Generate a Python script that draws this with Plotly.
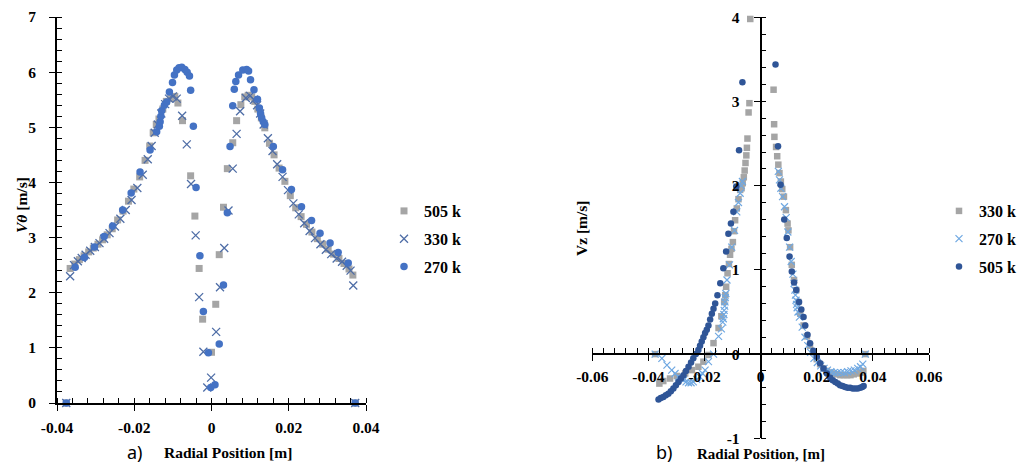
import plotly.graph_objects as go

# ---------------- Panel a) : V_theta ----------------
A_X_505 = [-0.0376, -0.0366, -0.0354, -0.0342, -0.0330, -0.0318, -0.0306, -0.0294, -0.0282, -0.0270,
           -0.0257, -0.0243, -0.0229, -0.0215, -0.0201, -0.0186, -0.0172, -0.0160, -0.0151, -0.0143,
           -0.0136, -0.0126, -0.0117, -0.0106, -0.0095, -0.0087, -0.0075, -0.0054, -0.0043, -0.0032,
           -0.0023, 0.0000, 0.0011, 0.0020, 0.0031, 0.0041, 0.0055, 0.0065, 0.0076, 0.0086,
           0.0095, 0.0104, 0.0112, 0.0120, 0.0129, 0.0138, 0.0150, 0.0162, 0.0175, 0.0190,
           0.0204, 0.0218, 0.0232, 0.0246, 0.0260, 0.0274, 0.0288, 0.0302, 0.0316, 0.0330,
           0.0343, 0.0356, 0.0366, 0.0372]
A_Y_505 = [0.00, 2.44, 2.52, 2.60, 2.67, 2.74, 2.81, 2.88, 2.96, 3.05,
           3.16, 3.32, 3.48, 3.66, 3.88, 4.10, 4.40, 4.66, 4.90, 5.05,
           5.15, 5.33, 5.47, 5.52, 5.56, 5.44, 5.12, 4.12, 3.39, 2.44,
           1.52, 0.92, 1.79, 2.69, 3.55, 4.25, 4.72, 5.12, 5.41, 5.55,
           5.58, 5.55, 5.47, 5.33, 5.17, 4.99, 4.71, 4.50, 4.26, 4.02,
           3.76, 3.54, 3.38, 3.24, 3.10, 2.98, 2.88, 2.79, 2.70, 2.62,
           2.53, 2.43, 2.32, 0.00]

A_X_330 = [-0.0376, -0.0366, -0.0356, -0.0346, -0.0336, -0.0326, -0.0314, -0.0302, -0.0290, -0.0278,
           -0.0264, -0.0250, -0.0236, -0.0222, -0.0207, -0.0192, -0.0178, -0.0165, -0.0155, -0.0147,
           -0.0139, -0.0130, -0.0120, -0.0110, -0.0100, -0.0090, -0.0076, -0.0064, -0.0053, -0.0041,
           -0.0032, -0.0021, -0.0011, -0.0001, 0.0012, 0.0022, 0.0033, 0.0044, 0.0055, 0.0065,
           0.0074, 0.0089, 0.0100, 0.0110, 0.0118, 0.0126, 0.0135, 0.0146, 0.0158, 0.0170,
           0.0184, 0.0198, 0.0212, 0.0226, 0.0240, 0.0254, 0.0268, 0.0282, 0.0296, 0.0310,
           0.0324, 0.0338, 0.0350, 0.0360, 0.0367, 0.0372]
A_Y_330 = [0.00, 2.30, 2.50, 2.57, 2.63, 2.69, 2.76, 2.83, 2.90, 2.98,
           3.08, 3.20, 3.34, 3.50, 3.68, 3.90, 4.14, 4.42, 4.66, 4.90,
           5.05, 5.25, 5.42, 5.52, 5.56, 5.52, 5.21, 4.69, 3.97, 3.04,
           1.92, 0.93, 0.28, 0.46, 1.29, 2.10, 2.81, 3.49, 4.25, 4.88,
           5.29, 5.53, 5.57, 5.50, 5.40, 5.25, 5.05, 4.80, 4.57, 4.33,
           4.10, 3.86, 3.62, 3.42, 3.26, 3.12, 2.99, 2.88, 2.78, 2.70,
           2.62, 2.56, 2.49, 2.40, 2.13, 0.00]

A_X_270 = [-0.0376, -0.0353, -0.0329, -0.0303, -0.0278, -0.0256, -0.0230, -0.0208, -0.0185, -0.0159,
           -0.0142, -0.0135, -0.0133, -0.0131, -0.0129, -0.0122, -0.0116, -0.0109, -0.0101, -0.0096,
           -0.0090, -0.0084, -0.0077, -0.0069, -0.0063, -0.0057, -0.0054, -0.0047, -0.0040, -0.0030,
           -0.0021, -0.0008, -0.0002, 0.0009, 0.0020, 0.0031, 0.0041, 0.0048, 0.0055, 0.0059,
           0.0063, 0.0070, 0.0081, 0.0091, 0.0096, 0.0101, 0.0110, 0.0119, 0.0124, 0.0127,
           0.0130, 0.0134, 0.0138, 0.0160, 0.0184, 0.0207, 0.0233, 0.0259, 0.0281, 0.0307,
           0.0328, 0.0354, 0.0372]
A_Y_270 = [0.00, 2.46, 2.64, 2.83, 3.02, 3.21, 3.50, 3.81, 4.19, 4.59,
           4.92, 5.02, 5.10, 5.20, 5.30, 5.40, 5.46, 5.64, 5.81, 5.95,
           6.04, 6.08, 6.09, 6.05, 6.00, 5.93, 5.67, 5.02, 3.91, 2.67,
           1.66, 0.91, 0.28, 0.33, 1.07, 2.14, 3.45, 4.65, 5.39, 5.69,
           5.83, 5.95, 6.04, 6.05, 6.02, 5.86, 5.68, 5.51, 5.35, 5.25,
           5.17, 5.10, 5.05, 4.65, 4.23, 3.87, 3.56, 3.31, 3.08, 2.90,
           2.73, 2.54, 0.00]

A_XTICKS = [-0.04, -0.02, 0, 0.02, 0.04]
A_XTICKTEXT = ["-0.04", "-0.02", "0", "0.02", "0.04"]
A_YTICKS = [0, 1, 2, 3, 4, 5, 6, 7]

# ---------------- Panel b) : Vz ----------------
B_X_330 = [-0.0376, -0.0361, -0.0347, -0.0323, -0.0299, -0.0269, -0.0245, -0.0222, -0.0204, -0.0186,
           -0.0168, -0.0150, -0.0140, -0.0130, -0.0126, -0.0123, -0.0118, -0.0113, -0.0109, -0.0104,
           -0.0099, -0.0095, -0.0091, -0.0085, -0.0079, -0.0073, -0.0068, -0.0064, -0.0060, -0.0057,
           -0.0054, -0.0051, -0.0049, -0.0047, -0.0043, -0.0040, -0.0037,
           0.0046, 0.0048, 0.0049, 0.0055, 0.0059, 0.0063, 0.0067, 0.0072, 0.0077, 0.0083,
           0.0090, 0.0096, 0.0099, 0.0105, 0.0111, 0.0119, 0.0127, 0.0134, 0.0141, 0.0153,
           0.0165, 0.0176, 0.0188, 0.0200, 0.0212, 0.0224, 0.0236, 0.0248, 0.0260, 0.0272,
           0.0284, 0.0296, 0.0308, 0.0320, 0.0332, 0.0344, 0.0356, 0.0366, 0.0373]
B_Y_330 = [0.00, -0.35, -0.32, -0.29, -0.26, -0.23, -0.19, -0.15, -0.09, -0.01,
           0.13, 0.31, 0.45, 0.62, 0.70, 0.80, 0.96, 1.07, 1.18, 1.25,
           1.33, 1.46, 1.59, 1.73, 1.84, 1.95, 1.97, 2.03, 2.10, 2.18,
           2.27, 2.36, 2.45, 2.56, 2.87, 2.98, 3.98,
           3.14, 2.73, 2.58, 2.46, 2.35, 2.25, 2.15, 2.05, 1.96, 1.87,
           1.71, 1.55, 1.47, 1.27, 1.06, 0.88, 0.76, 0.62, 0.48, 0.34,
           0.21, 0.10, 0.02, -0.06, -0.12, -0.17, -0.20, -0.22, -0.23, -0.24,
           -0.25, -0.25, -0.25, -0.25, -0.24, -0.23, -0.22, -0.20, 0.00]

B_X_270 = [-0.0376, -0.0352, -0.0334, -0.0317, -0.0305, -0.0293, -0.0284, -0.0275, -0.0266, -0.0257,
           -0.0248, -0.0240, -0.0228, -0.0216, -0.0207, -0.0198, -0.0186, -0.0168, -0.0150, -0.0140,
           -0.0135, -0.0133, -0.0131, -0.0130, -0.0128, -0.0127, -0.0126, -0.0124, -0.0120, -0.0111,
           -0.0103, -0.0093, -0.0085, -0.0079, -0.0073, -0.0069, -0.0065,
           0.0063, 0.0067, 0.0072, 0.0078, 0.0085, 0.0091, 0.0097, 0.0103, 0.0109, 0.0115,
           0.0119, 0.0122, 0.0124, 0.0126, 0.0128, 0.0130, 0.0133, 0.0138, 0.0148, 0.0158,
           0.0168, 0.0178, 0.0190, 0.0202, 0.0214, 0.0226, 0.0238, 0.0250, 0.0262, 0.0274,
           0.0286, 0.0298, 0.0310, 0.0322, 0.0334, 0.0346, 0.0356, 0.0364, 0.0373]
B_Y_270 = [0.00, -0.05, -0.13, -0.19, -0.23, -0.27, -0.29, -0.31, -0.33, -0.34,
           -0.34, -0.33, -0.30, -0.27, -0.23, -0.19, -0.09, 0.00, 0.21, 0.30,
           0.38, 0.42, 0.47, 0.52, 0.57, 0.62, 0.67, 0.72, 0.88, 1.06,
           1.27, 1.47, 1.69, 1.80, 1.91, 2.00, 2.05,
           2.17, 2.07, 1.97, 1.87, 1.75, 1.62, 1.45, 1.27, 1.10, 0.95,
           0.84, 0.76, 0.70, 0.64, 0.59, 0.55, 0.50, 0.44, 0.32, 0.20,
           0.10, 0.02, -0.05, -0.10, -0.14, -0.17, -0.19, -0.21, -0.22, -0.22,
           -0.22, -0.22, -0.21, -0.20, -0.19, -0.17, -0.15, -0.12, 0.00]

B_X_505 = [-0.0364, -0.0356, -0.0347, -0.0338, -0.0329, -0.0320, -0.0311, -0.0302, -0.0293, -0.0284,
           -0.0275, -0.0266, -0.0257, -0.0248, -0.0240, -0.0231, -0.0222, -0.0216, -0.0210, -0.0204,
           -0.0198, -0.0192, -0.0186, -0.0180, -0.0174, -0.0168, -0.0162, -0.0154, -0.0144, -0.0133,
           -0.0123, -0.0115, -0.0106, -0.0097, -0.0087, -0.0077, -0.0065,
           0.0053, 0.0062, 0.0071, 0.0084, 0.0093, 0.0103, 0.0111, 0.0119, 0.0127, 0.0137,
           0.0145, 0.0153, 0.0159, 0.0167, 0.0176, 0.0188, 0.0200, 0.0212, 0.0224, 0.0236,
           0.0248, 0.0257, 0.0266, 0.0275, 0.0283, 0.0292, 0.0301, 0.0310, 0.0319, 0.0328,
           0.0337, 0.0346, 0.0355, 0.0362, 0.0367]
B_Y_505 = [-0.54, -0.52, -0.51, -0.49, -0.47, -0.44, -0.41, -0.37, -0.33, -0.29,
           -0.25, -0.20, -0.15, -0.10, -0.05, 0.00, 0.05, 0.10, 0.15, 0.20,
           0.25, 0.29, 0.34, 0.41, 0.48, 0.54, 0.60, 0.70, 0.84, 1.02,
           1.22, 1.43, 1.55, 1.69, 1.99, 2.42, 3.23,
           3.44, 2.47, 2.01, 1.60, 1.38, 1.16, 0.98, 0.85, 0.76, 0.62,
           0.53, 0.44, 0.34, 0.23, 0.13, 0.04, -0.03, -0.11, -0.17, -0.23,
           -0.28, -0.31, -0.33, -0.35, -0.37, -0.38, -0.39, -0.40, -0.40, -0.41,
           -0.41, -0.41, -0.40, -0.39, -0.38]

B_XTICKS = [-0.06, -0.04, -0.02, 0, 0.02, 0.04, 0.06]
B_XTICKTEXT = ["-0.06", "-0.04", "-0.02", "0", "0.02", "0.04", "0.06"]
B_YTICKS = [-1, 0, 1, 2, 3, 4]
B_YTICKTEXT = ["-1", "0", "1", "2", "3", "4"]

W, H = 1021, 463
SERIF = "Liberation Serif"
tick_font = dict(family=SERIF, size=15.5, color="black", weight="bold")

def px_x(p):
    return p / W

def px_y(p):
    return 1 - p / H

fig = go.Figure()

# panel a traces
fig.add_trace(go.Scatter(x=A_X_505, y=A_Y_505, mode="markers", name="505 k",
                         marker=dict(symbol="square", size=7, color="#A5A5A5"),
                         xaxis="x", yaxis="y", legend="legend", legendgroup="a1", cliponaxis=False))
fig.add_trace(go.Scatter(x=A_X_330, y=A_Y_330, mode="markers", name="330 k",
                         marker=dict(symbol="x-thin-open", size=8, color="#4E6DA6",
                                     line=dict(color="#4E6DA6", width=1.3)),
                         xaxis="x", yaxis="y", legend="legend", legendgroup="a2", cliponaxis=False))
fig.add_trace(go.Scatter(x=A_X_270, y=A_Y_270, mode="markers", name="270 k",
                         marker=dict(symbol="circle", size=7.5, color="#4472C4"),
                         xaxis="x", yaxis="y", legend="legend", legendgroup="a3", cliponaxis=False))

# panel b traces
fig.add_trace(go.Scatter(x=B_X_330, y=B_Y_330, mode="markers", name="330 k",
                         marker=dict(symbol="square", size=6.5, color="#A5A5A5"),
                         xaxis="x2", yaxis="y2", legend="legend2", legendgroup="b1", cliponaxis=False))
fig.add_trace(go.Scatter(x=B_X_270, y=B_Y_270, mode="markers", name="270 k",
                         marker=dict(symbol="x-thin-open", size=7, color="#6FA8E2",
                                     line=dict(color="#6FA8E2", width=1.2)),
                         xaxis="x2", yaxis="y2", legend="legend2", legendgroup="b2", cliponaxis=False))
fig.add_trace(go.Scatter(x=B_X_505, y=B_Y_505, mode="markers", name="505 k",
                         marker=dict(symbol="circle", size=6.5, color="#2F5597"),
                         xaxis="x2", yaxis="y2", legend="legend2", legendgroup="b3", cliponaxis=False))

a_xdom = [px_x(57), px_x(366)]
a_ydom = [px_y(403), px_y(17)]
b_xdom = [px_x(592.3), px_x(929)]
b_ydom = [px_y(438.3), px_y(17.3)]

common = dict(showgrid=False, zeroline=False, showline=True, linecolor="black", linewidth=1.6,
              tickcolor="black", tickwidth=1.4, tickfont=tick_font, automargin=False)
overlay_common = dict(showticklabels=False, showline=False, showgrid=False, zeroline=False,
                      tickcolor="black", tickwidth=1.4, automargin=False, ticks="inside", ticklen=6)

fig.update_layout(
    width=W, height=H, margin=dict(l=0, r=0, t=0, b=0, autoexpand=False),
    paper_bgcolor="white", plot_bgcolor="rgba(0,0,0,0)",
    showlegend=True,
    xaxis=dict(domain=a_xdom, range=[-0.04, 0.04], anchor="y", tickmode="array",
               tickvals=A_XTICKS, ticktext=A_XTICKTEXT, ticks="outside", ticklen=6,
               ticklabelstandoff=4,
               minor=dict(tickmode="linear", tick0=0, dtick=0.004, ticks="inside", ticklen=5,
                          tickcolor="black", tickwidth=1.2),
               **common),
    yaxis=dict(domain=a_ydom, range=[0, 7], anchor="x", tickmode="array",
               tickvals=A_YTICKS, ticks="outside", ticklen=6, ticklabelstandoff=10,
               minor=dict(tickmode="linear", tick0=0, dtick=0.2, ticks="inside", ticklen=5,
                          tickcolor="black", tickwidth=1.2),
               **common),
    xaxis3=dict(domain=a_xdom, range=[-0.04, 0.04], anchor="y", overlaying="x",
                tickmode="array", tickvals=A_XTICKS, **overlay_common),
    yaxis3=dict(domain=a_ydom, range=[0, 7], anchor="x", overlaying="y",
                tickmode="array", tickvals=A_YTICKS, **overlay_common),
    xaxis2=dict(domain=b_xdom, range=[-0.06, 0.06], anchor="free",
                position=px_y(354), tickmode="array",
                tickvals=B_XTICKS, ticktext=B_XTICKTEXT, ticks="outside", ticklen=6,
                ticklabelstandoff=3,
                minor=dict(tickmode="linear", tick0=0, dtick=0.004, ticks="inside", ticklen=5,
                           tickcolor="black", tickwidth=1.2),
                **common),
    yaxis2=dict(domain=b_ydom, range=[-1, 4], anchor="free",
                position=px_x(760.5), tickmode="array",
                tickvals=B_YTICKS, ticktext=B_YTICKTEXT, ticks="outside", ticklen=6,
                ticklabelstandoff=11,
                minor=dict(tickmode="linear", tick0=0, dtick=0.2, ticks="inside", ticklen=5,
                           tickcolor="black", tickwidth=1.2),
                **common),
    xaxis4=dict(domain=b_xdom, range=[-0.06, 0.06], anchor="free", position=px_y(354),
                overlaying="x2", tickmode="array", tickvals=B_XTICKS, **overlay_common),
    yaxis4=dict(domain=b_ydom, range=[-1, 4], anchor="free", position=px_x(760.5),
                overlaying="y2", tickmode="array", tickvals=B_YTICKS, **overlay_common),
    legend=dict(x=px_x(384), y=px_y(194), xanchor="left", yanchor="top",
                font=dict(family=SERIF, size=16, color="black", weight="bold"),
                bgcolor="rgba(0,0,0,0)", tracegroupgap=4, itemclick=False),
    legend2=dict(x=1.0, y=px_y(194), xanchor="right", yanchor="top",
                 font=dict(family=SERIF, size=16, color="black", weight="bold"),
                 bgcolor="rgba(0,0,0,0)", tracegroupgap=4, itemclick=False),
)

# axis titles and panel labels
ann = [
    dict(text="<b><i>Vθ</i> [m/s]</b>", x=px_x(21), y=px_y(205), textangle=-90,
         font=dict(family=SERIF, size=15.5, color="black")),
    dict(text="<b>Vz [m/s]</b>", x=px_x(581), y=px_y(228), textangle=-90,
         font=dict(family=SERIF, size=15.5, color="black")),
    dict(text="a)", x=px_x(134.5), y=px_y(452), font=dict(family="Noto Sans", size=18, color="black")),
    dict(text="<b>Radial Position [m]</b>", x=px_x(228), y=px_y(452),
         font=dict(family=SERIF, size=15.5, color="black")),
    dict(text="b)", x=px_x(664), y=px_y(452), font=dict(family="Noto Sans", size=18, color="black")),
    dict(text="<b>Radial Position, [m]</b>", x=px_x(760.5), y=px_y(454),
         font=dict(family=SERIF, size=15, color="black")),
]
for a in ann:
    fig.add_annotation(xref="paper", yref="paper", showarrow=False,
                       xanchor="center", yanchor="middle", **a)

fig.write_html("out.html")
